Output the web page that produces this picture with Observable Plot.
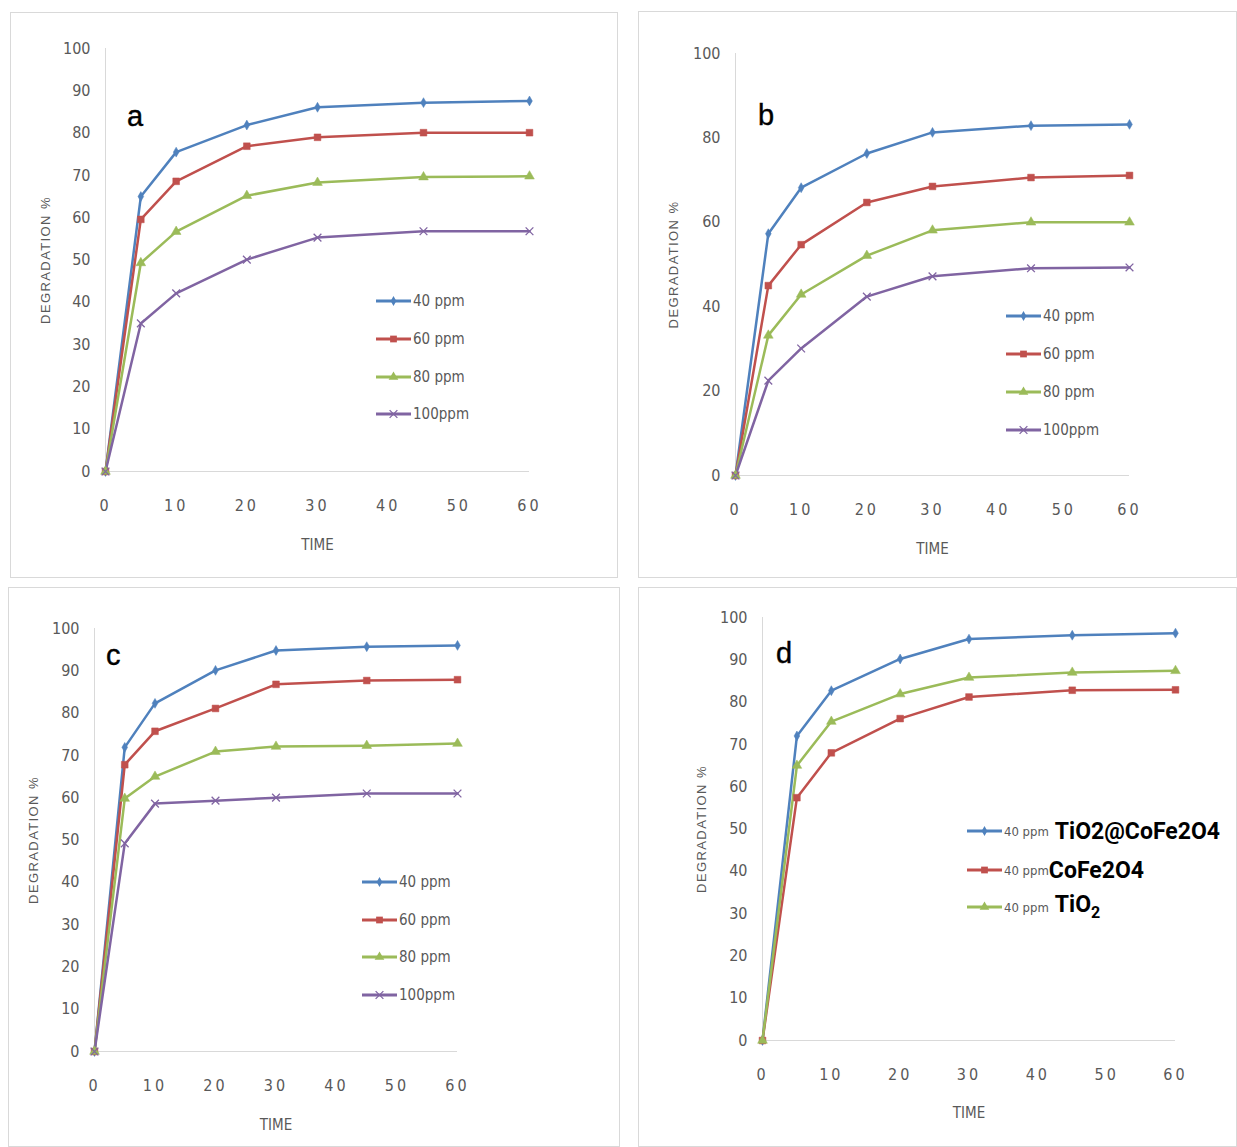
<!DOCTYPE html>
<html><head><meta charset="utf-8">
<script src="https://cdn.jsdelivr.net/npm/d3@7"></script>
<script src="https://cdn.jsdelivr.net/npm/@observablehq/plot@0.6"></script>
<style>
body{margin:0;background:#fff;}
#root{position:relative;width:1237px;height:1147px;background:#fff;overflow:hidden;}
.box{position:absolute;border:1px solid #d9d9d9;box-sizing:border-box;}
.plot{position:absolute;}
.letter{position:absolute;font-family:'Liberation Sans',Arial,sans-serif;font-size:29px;color:#000;line-height:1;-webkit-text-stroke:0.4px #000;}
.leg{position:absolute;display:flex;align-items:center;font-family:'Liberation Sans Narrow','DejaVu Sans Condensed','Liberation Sans',sans-serif;font-size:15px;color:#595959;white-space:nowrap;line-height:1;}
.leg svg{display:block;margin-right:2px;}
.big{font-family:'Liberation Sans Narrow','Roboto','Liberation Sans',sans-serif;font-weight:bold;font-size:23px;color:#000;}
.small{font-size:13px;}
</style></head><body><div id="root"></div><script>
// ---- data ----
const TIME = [0, 5, 10, 20, 30, 45, 60];
const X_TICKS = [0, 10, 20, 30, 40, 50, 60];
const Y_TICKS_10 = [0, 10, 20, 30, 40, 50, 60, 70, 80, 90, 100];
const Y_TICKS_20 = [0, 20, 40, 60, 80, 100];
const PPM_SERIES = ["40 ppm", "60 ppm", "80 ppm", "100ppm"];
const D_SERIES = ["TiO2@CoFe2O4", "CoFe2O4", "TiO2"];

const A_40  = [0, 65.0, 75.5, 81.9, 86.1, 87.2, 87.6];
const A_60  = [0, 59.6, 68.6, 76.9, 79.0, 80.1, 80.1];
const A_80  = [0, 49.3, 56.7, 65.2, 68.3, 69.6, 69.8];
const A_100 = [0, 35.0, 42.1, 50.1, 55.3, 56.8, 56.8];

const B_40  = [0, 57.3, 68.2, 76.3, 81.3, 82.9, 83.2];
const B_60  = [0, 45.0, 54.7, 64.7, 68.5, 70.6, 71.1];
const B_80  = [0, 33.2, 42.9, 52.1, 58.1, 60.0, 60.0];
const B_100 = [0, 22.5, 30.1, 42.4, 47.2, 49.1, 49.3];

const C_40  = [0, 71.9, 82.3, 90.1, 94.8, 95.7, 96.0];
const C_60  = [0, 67.8, 75.7, 81.1, 86.8, 87.7, 87.9];
const C_80  = [0, 59.8, 65.0, 70.9, 72.1, 72.3, 72.8];
const C_100 = [0, 49.2, 58.6, 59.3, 60.0, 61.0, 61.0];

const D_TICO = [0, 72.0, 82.7, 90.2, 94.9, 95.8, 96.3];
const D_CO   = [0, 57.4, 68.0, 76.1, 81.2, 82.8, 82.9];
const D_TI   = [0, 65.0, 75.4, 81.9, 85.8, 87.0, 87.4];

// ---- styles ----
const BLUE = "#4F81BD", RED = "#C0504D", GREEN = "#9BBB59", PURPLE = "#8064A2";
const NARROW = "'Liberation Sans Narrow','DejaVu Sans Condensed','Liberation Sans',sans-serif";
const STYLE = {blue:{c:BLUE,sym:"diamond",r:3}, red:{c:RED,sym:"square",r:3.8}, green:{c:GREEN,sym:"triangle",r:3.6}, purple:{c:PURPLE,sym:"times",r:3.6}};

const panels = [
  {letter:"a", box:[10,12,608,566], frame:[105,529,48,471], yTicks:Y_TICKS_10, yLabX:45, xLabDy:74,
   series:[[PPM_SERIES[0],A_40,"blue"],[PPM_SERIES[1],A_60,"red"],[PPM_SERIES[2],A_80,"green"],[PPM_SERIES[3],A_100,"purple"]],
   letterPos:[127,102], legend:{x:376, rows:[301,339,377,414]}},
  {letter:"b", box:[638,11,599,567], frame:[735,1129,53,475], yTicks:Y_TICKS_20, yLabX:673, xLabDy:74,
   series:[[PPM_SERIES[0],B_40,"blue"],[PPM_SERIES[1],B_60,"red"],[PPM_SERIES[2],B_80,"green"],[PPM_SERIES[3],B_100,"purple"]],
   letterPos:[758,101], legend:{x:1006, rows:[316,354,392,430]}},
  {letter:"c", box:[8,587,612,560], frame:[94,457,628,1051], yTicks:Y_TICKS_10, yLabX:33, xLabDy:74,
   series:[[PPM_SERIES[0],C_40,"blue"],[PPM_SERIES[1],C_60,"red"],[PPM_SERIES[2],C_80,"green"],[PPM_SERIES[3],C_100,"purple"]],
   letterPos:[106,641], legend:{x:362, rows:[882,920,957,995]}},
  {letter:"d", box:[638,587,599,560], frame:[762,1175,617,1040], yTicks:Y_TICKS_10, yLabX:701, xLabDy:73,
   series:[[D_SERIES[0],D_TICO,"blue"],[D_SERIES[1],D_CO,"red"],[D_SERIES[2],D_TI,"green"]],
   letterPos:[776,639], legend:{x:967, rows:[831,870,907]}, dLegend:true}
];

const root = d3.select("#root");

function symbolPath(sym, r) {
  const map = {diamond:d3.symbolDiamond, square:d3.symbolSquare, triangle:d3.symbolTriangle, times:d3.symbolX};
  return d3.symbol(map[sym], Math.PI * r * r)();
}

panels.forEach(p => {
  const [bx, by, bw, bh] = p.box;
  const [fx0, fx1, fy0, fy1] = p.frame;
  root.append("div").attr("class","box")
    .style("left", bx+"px").style("top", by+"px").style("width", bw+"px").style("height", bh+"px");

  const marks = [
    Plot.ruleY([0], {stroke:"#d9d9d9", strokeWidth:1}),
    Plot.ruleX([0], {stroke:"#d9d9d9", strokeWidth:1}),
    Plot.axisX({ticks:X_TICKS, tickSize:0, tickPadding:28, label:null, fill:"#595959", fontSize:16}),
    Plot.axisY({ticks:p.yTicks, tickSize:0, tickPadding:15, label:null, fill:"#595959", fontSize:16}),
    Plot.text(["DEGRADATION %"], {text:d=>d, frameAnchor:"left", textAnchor:"middle", lineAnchor:"middle", rotate:-90, dx:-(fx0 - p.yLabX), fontFamily:"'Liberation Sans',Arial,sans-serif", fontSize:13, fill:"#595959"}),
    Plot.text(["TIME"], {text:d=>d, frameAnchor:"bottom", lineAnchor:"middle", dy:p.xLabDy, fontSize:15, fill:"#595959"})
  ];
  p.series.forEach(([name, vals, key]) => {
    const s = STYLE[key];
    const data = TIME.map((t, i) => ({t, v: vals[i], name}));
    marks.push(Plot.line(data, {x:"t", y:"v", stroke:s.c, strokeWidth:2.5}));
  });
  p.series.forEach(([name, vals, key]) => {
    const s = STYLE[key];
    const data = TIME.map((t, i) => ({t, v: vals[i], name}));
    if (s.sym === "times")
      marks.push(Plot.dot(data, {x:"t", y:"v", symbol:"times", r:s.r, stroke:s.c, strokeWidth:1.3, fill:"none"}));
    else
      marks.push(Plot.dot(data, {x:"t", y:"v", symbol:s.sym, r:s.r, fill:s.c, stroke:s.c, strokeWidth:0.5}));
  });

  const chart = Plot.plot({
    width: bw, height: bh,
    marginLeft: fx0 - bx, marginRight: bx + bw - fx1,
    marginTop: fy0 - by, marginBottom: by + bh - fy1,
    x:{domain:[0,60]}, y:{domain:[0,100]},
    style:{fontFamily:NARROW, fontSize:"15px", color:"#595959", background:"transparent", overflow:"visible"},
    marks
  });
  d3.select(chart).selectAll('g[aria-label="x-axis tick label"] text').style("letter-spacing","3px");
  d3.select(chart).selectAll("text").filter(function(){return this.textContent==="DEGRADATION %";}).style("letter-spacing","1.4px");
  const wrap = root.append("div").attr("class","plot").style("left", bx+"px").style("top", by+"px");
  wrap.node().appendChild(chart);

  root.append("div").attr("class","letter").style("left", p.letterPos[0]+"px").style("top", p.letterPos[1]+"px").text(p.letter);

  p.series.forEach(([name, vals, key], i) => {
    const s = STYLE[key];
    const row = root.append("div").attr("class","leg")
      .style("left", p.legend.x+"px").style("top", (p.legend.rows[i]-10)+"px").style("height","20px");
    const sv = row.append("svg").attr("width",35).attr("height",12);
    sv.append("line").attr("x1",0).attr("x2",35).attr("y1",6).attr("y2",6).attr("stroke",s.c).attr("stroke-width",3);
    const path = sv.append("path").attr("d", symbolPath(s.sym, s.r)).attr("transform","translate(17.5,6)");
    if (s.sym === "times") path.attr("fill","none").attr("stroke",s.c).attr("stroke-width",1.3);
    else path.attr("fill",s.c);
    if (p.dLegend) {
      row.append("span").attr("class","small").text("40 ppm");
      const big = row.append("span").attr("class","big").style("margin-left", i===1 ? "0px" : "6px");
      if (name === "TiO2") { big.html("TiO<sub style='font-size:16px;vertical-align:-6px'>2</sub>"); }
      else big.text(name);
    } else {
      row.append("span").text(name);
    }
  });
});
</script></body></html>
